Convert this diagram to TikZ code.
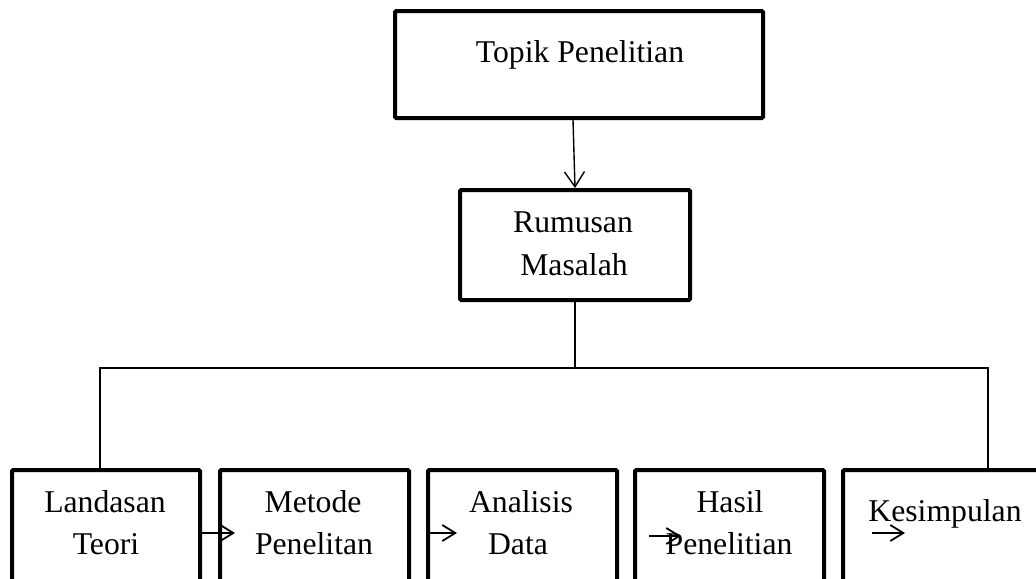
\documentclass[tikz,border=0pt]{standalone}
\usepackage{fontspec}
\setmainfont{Liberation Serif}
\usetikzlibrary{arrows.meta}
\begin{document}
\begin{tikzpicture}[x=0.5pt,y=-0.5pt,
  box/.style={draw=black,line width=2pt,rectangle,inner sep=0pt,rounded corners=0.6pt},
  lbl/.style={anchor=base,inner sep=0pt,font=\fontsize{15.85}{19}\selectfont},
  conn/.style={draw=black,line width=0.7pt},
  arrsmall/.style={draw=black,line width=0.9pt,-{Straight Barb[length=6.5pt,width=8pt,line width=0.9pt]}},
  arrbig/.style={draw=black,line width=0.7pt,-{Straight Barb[length=7.5pt,width=10pt,line width=0.7pt]}}]
\clip (0,0) rectangle (1036,578);
\fill[white] (0,0) rectangle (1036,578);
% boxes
\node[box,minimum width=184pt,minimum height=53.5pt] (top) at (579,64.5) {};
\node[box,minimum width=115pt,minimum height=55pt] (rum) at (575,245) {};
\node[box,minimum width=94pt,minimum height=65pt] (b1) at (106,535) {};
\node[box,minimum width=94.5pt,minimum height=65pt] (b2) at (314.5,535) {};
\node[box,minimum width=94.5pt,minimum height=65pt] (b3) at (522.5,535) {};
\node[box,minimum width=94.5pt,minimum height=65pt] (b4) at (729.5,535) {};
\node[box,minimum width=101pt,minimum height=65pt] (b5) at (944,535) {};
% texts
\node[lbl] (ttop) at (580,62) {Topik Penelitian};
\node[lbl] (trum1) at (573,232) {Rumusan};
\node[lbl] (trum2) at (574,275) {Masalah};
\node[lbl] (t1a) at (105,512) {Landasan};
\node[lbl] (t1b) at (106,554) {Teori};
\node[lbl] (t2a) at (313,512) {Metode};
\node[lbl] (t2b) at (314,554) {Penelitan};
\node[lbl] (t3a) at (521,512) {Analisis};
\node[lbl] (t3b) at (518,554) {Data};
\node[lbl] (t4a) at (730,512) {Hasil};
\node[lbl] (t4b) at (729,554) {Penelitian};
\node[lbl,anchor=base west] (t5a) at (868,521) {Kesimpulan};
% top arrow
\draw[arrbig] ([xshift=-3pt]top.south) -- (rum.north);
% tree
\coordinate (hl) at (100,368);
\coordinate (hr) at (988,368);
\draw[conn] (rum.south) -- (rum.south |- hl);
\draw[conn] (b1.north -| hl) -- (hl) -- (hr) -- (b5.north -| hr);
% small arrows
\coordinate (a1) at (235,533);
\coordinate (a2) at (457,533);
\coordinate (a3s) at (649,536);
\coordinate (a3) at (681,536);
\coordinate (a4s) at (872,533);
\coordinate (a4) at (905,533);
\draw[arrsmall] (a1 -| b1.east) -- (a1);
\draw[arrsmall] (a2 -| b3.west) -- (a2);
\draw[arrsmall] (a3s) -- (a3);
\draw[arrsmall] (a4s) -- (a4);
\end{tikzpicture}
\end{document}
